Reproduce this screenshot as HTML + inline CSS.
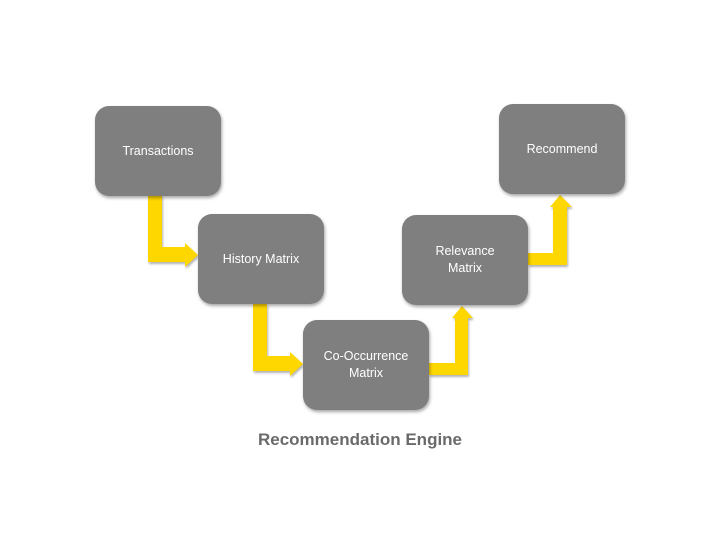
<!DOCTYPE html>
<html><head><style>
body{margin:0;width:720px;height:540px;background:#fff;position:relative;overflow:hidden;font-family:"Liberation Sans",sans-serif}
.b{position:absolute;width:126px;height:90px;background:#7f7f7f;border-radius:14px;color:#fff;font-size:12.5px;display:flex;align-items:center;justify-content:center;text-align:center;line-height:17px;box-shadow:1px 2px 3px rgba(0,0,0,.35)}
svg{position:absolute;left:0;top:0}
</style></head><body>
<svg width="720" height="540">
<g fill="#ffd700" style="filter:drop-shadow(1px 2px 1px rgba(0,0,0,.3))">
<polygon points="148,195 162,195 162,247 185,247 185,243 198,255 185,267 185,262 148,262"/>
<polygon points="253,304 267,304 267,356 290,356 290,352 303,364 290,376 290,371 253,371"/>
<polygon points="429,363 455,363 455,318 452,318 462,306 473,318 468,318 468,375 429,375"/>
<polygon points="528,253 553,253 553,207 550,207 560,195 572,207 567,207 567,265 528,265"/>
</g>
</svg>
<div class="b" style="left:95px;top:106px">Transactions</div>
<div class="b" style="left:198px;top:214px">History Matrix</div>
<div class="b" style="left:303px;top:320px">Co-Occurrence<br>Matrix</div>
<div class="b" style="left:402px;top:215px">Relevance<br>Matrix</div>
<div class="b" style="left:499px;top:104px">Recommend</div>
<div style="position:absolute;left:0;width:720px;top:430px;text-align:center;font-weight:bold;font-size:17px;color:#6a6a6a">Recommendation Engine</div>
</body></html>
